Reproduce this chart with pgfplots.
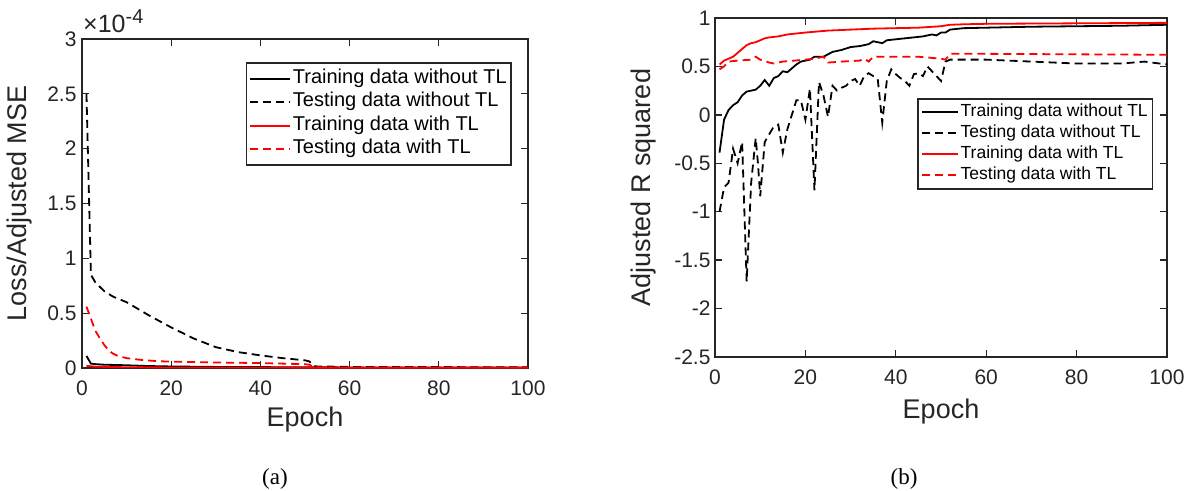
\documentclass[border=0pt]{standalone}
\usepackage{pgfplots}
\pgfplotsset{compat=1.18}
\usepackage{fontspec}
\setmainfont{Liberation Sans}
\newfontfamily\capfont{Liberation Serif}
\definecolor{axgray}{RGB}{38,38,38}
\definecolor{mred}{RGB}{255,0,0}

\pgfplotsset{
  mystyle/.style={
    scale only axis,
    xmin=0, xmax=100,
    xtick={0,20,...,100},
    tick align=inside,
    xtick pos=both, ytick pos=both,
    major tick length=7pt,
    axis line style={axgray, line width=1.5pt},
    tick style={axgray, line width=1.3pt},
    tick label style={font=\fontsize{21}{24}\selectfont, text=axgray},
    xticklabel style={yshift=-9pt},
    /pgf/number format/assume math mode=true,
    label style={font=\fontsize{27}{30}\selectfont, text=axgray},
    legend cell align=left,
    every axis plot/.append style={line width=1.8pt},
    clip mode=individual,
  },
  ksolid/.style={black, line width=1.8pt},
  rsolid/.style={mred, line width=1.8pt},
  kdash/.style={black, line width=1.8pt, dash pattern=on 8pt off 5pt},
  rdash/.style={mred, line width=1.8pt, dash pattern=on 8pt off 5pt},
}

\begin{document}
\begin{tikzpicture}
\useasboundingbox (0,0) rectangle (1193pt,490pt);

% ---------------- (a) ----------------
\begin{axis}[mystyle,
  at={(82pt,122pt)}, anchor=south west,
  width=446pt, height=329pt,
  ymin=0, ymax=3, ytick={0,0.5,...,3},
  yticklabel style={xshift=-2pt},
  xlabel={Epoch}, ylabel={Loss/Adjusted MSE},
  xlabel style={at={(axis description cs:0.5,-0.179)}, anchor=base},
  ylabel style={at={(axis description cs:-0.103,0.5)}, anchor=south},
  legend image code/.code={\draw[#1,line width=2pt] (0pt,0pt) -- (40pt,0pt);},
  legend style={at={(0.964,0.930)}, anchor=north east,
    draw=axgray, line width=1.5pt, fill=white,
    font=\fontsize{20}{22}\selectfont, text=black,
    inner xsep=3pt, inner ysep=4pt, row sep=0pt,
    nodes={inner sep=1.5pt, text height=15pt, text depth=5.5pt}},
]
\addplot[ksolid] coordinates {(1,0.11)(2,0.04)(3,0.035)(5,0.03)(10,0.025)(15,0.018)(20,0.014)(30,0.01)(40,0.008)(50,0.007)(60,0.005)(80,0.004)(100,0.004)};
\addlegendentry{Training data without TL}
\addplot[kdash] coordinates {(1,2.5)(2,0.85)(3,0.78)(4,0.74)(5,0.70)(7,0.65)(10,0.60)(15,0.48)(20,0.37)(25,0.27)(30,0.19)(35,0.145)(40,0.115)(45,0.09)(50,0.07)(51,0.06)(52,0.015)(60,0.01)(80,0.008)(100,0.007)};
\addlegendentry{Testing data without TL}
\addplot[rsolid] coordinates {(1,0.02)(3,0.012)(5,0.01)(10,0.007)(20,0.005)(40,0.004)(60,0.003)(100,0.003)};
\addlegendentry{Training data with TL}
\addplot[rdash] coordinates {(1,0.56)(2,0.45)(3,0.34)(4,0.27)(5,0.21)(6,0.16)(7,0.13)(8,0.11)(10,0.09)(13,0.075)(17,0.062)(20,0.058)(30,0.05)(40,0.045)(50,0.035)(51,0.03)(52,0.006)(60,0.005)(100,0.004)};
\addlegendentry{Testing data with TL}
\end{axis}
\node[anchor=base west, inner sep=0pt, text=axgray, font=\fontsize{25}{28}\selectfont]
  at (83pt,457pt) {×10\raisebox{9pt}{\fontsize{20}{22}\selectfont -4}};

% ---------------- (b) ----------------
\begin{axis}[mystyle,
  at={(715pt,133pt)}, anchor=south west,
  width=452pt, height=339pt,
  ymin=-2.5, ymax=1, ytick={-2.5,-2,...,1},
  yticklabel style={xshift=-1pt},
  xlabel={Epoch}, ylabel={Adjusted R squared},
  xlabel style={at={(axis description cs:0.5,-0.18)}, anchor=base},
  ylabel style={at={(axis description cs:-0.122,0.5)}, anchor=south},
  legend image code/.code={\draw[#1,line width=2pt] (0pt,0pt) -- (36pt,0pt);},
  legend style={at={(0.969,0.764)}, anchor=north east,
    draw=axgray, line width=1.5pt, fill=white,
    font=\fontsize{17.5}{20}\selectfont, text=black,
    inner xsep=3pt, inner ysep=3pt, row sep=0pt,
    nodes={inner sep=1.5pt, text height=13pt, text depth=5pt}},
]
\addplot[ksolid] coordinates {(1,-0.39)(2,-0.05)(3,0.05)(4,0.1)(5,0.13)(6,0.2)(7,0.24)(8,0.25)(9,0.26)(10,0.3)(11,0.36)(12,0.3)(13,0.38)(14,0.4)(15,0.45)(16,0.44)(17,0.48)(18,0.52)(19,0.55)(20,0.56)(21,0.57)(22,0.6)(24,0.6)(26,0.65)(28,0.67)(30,0.7)(32,0.71)(34,0.73)(35,0.76)(36,0.75)(37,0.74)(38,0.77)(40,0.78)(42,0.79)(44,0.8)(46,0.81)(48,0.83)(49,0.82)(50,0.85)(51,0.85)(52,0.88)(55,0.895)(60,0.9)(70,0.91)(80,0.915)(90,0.92)(100,0.93)};
\addlegendentry{Training data without TL}
\addplot[kdash] coordinates {(1,-1.0)(2,-0.75)(3,-0.7)(4,-0.35)(5,-0.5)(6,-0.28)(7,-1.72)(8,-0.7)(9,-0.24)(9.5,-0.5)(10,-0.84)(11,-0.28)(12,-0.2)(13,-0.12)(14,-0.1)(15,-0.39)(16,-0.15)(17,0.0)(18,0.15)(19,0.15)(20,-0.05)(21,0.27)(22,-0.78)(23,0.34)(24,0.2)(25,-0.02)(26,0.3)(27,0.25)(28,0.28)(29,0.3)(30,0.35)(31,0.37)(32,0.3)(33,0.4)(34,0.43)(35,0.4)(36,0.37)(37,-0.08)(38,0.35)(39,0.47)(40,0.42)(41,0.38)(42,0.35)(43,0.3)(44,0.42)(45,0.43)(46,0.4)(47,0.5)(48,0.45)(49,0.4)(50,0.35)(51,0.55)(52,0.57)(60,0.57)(70,0.55)(80,0.53)(90,0.53)(95,0.55)(100,0.52)};
\addlegendentry{Testing data without TL}
\addplot[rsolid] coordinates {(1,0.52)(2,0.56)(3,0.58)(4,0.6)(5,0.64)(6,0.68)(7,0.72)(8,0.74)(9,0.75)(10,0.77)(11,0.79)(12,0.8)(14,0.81)(16,0.83)(18,0.84)(20,0.85)(25,0.87)(30,0.88)(35,0.89)(40,0.895)(45,0.9)(50,0.915)(52,0.93)(55,0.935)(60,0.94)(80,0.945)(100,0.95)};
\addlegendentry{Training data with TL}
\addplot[rdash] coordinates {(1,0.47)(2,0.5)(3,0.55)(5,0.56)(8,0.57)(9,0.6)(10,0.57)(12,0.54)(13,0.53)(15,0.55)(20,0.57)(22,0.58)(24,0.6)(25,0.54)(28,0.55)(32,0.56)(33,0.58)(34,0.55)(35,0.6)(40,0.6)(45,0.6)(50,0.58)(51,0.57)(52,0.63)(60,0.63)(80,0.625)(100,0.62)};
\addlegendentry{Testing data with TL}
\end{axis}

\node[anchor=base, inner sep=0pt] at (275pt,6pt) {\capfont\fontsize{23}{26}\selectfont (a)};
\node[anchor=base, inner sep=0pt] at (904pt,6pt) {\capfont\fontsize{23}{26}\selectfont (b)};
\end{tikzpicture}
\end{document}
